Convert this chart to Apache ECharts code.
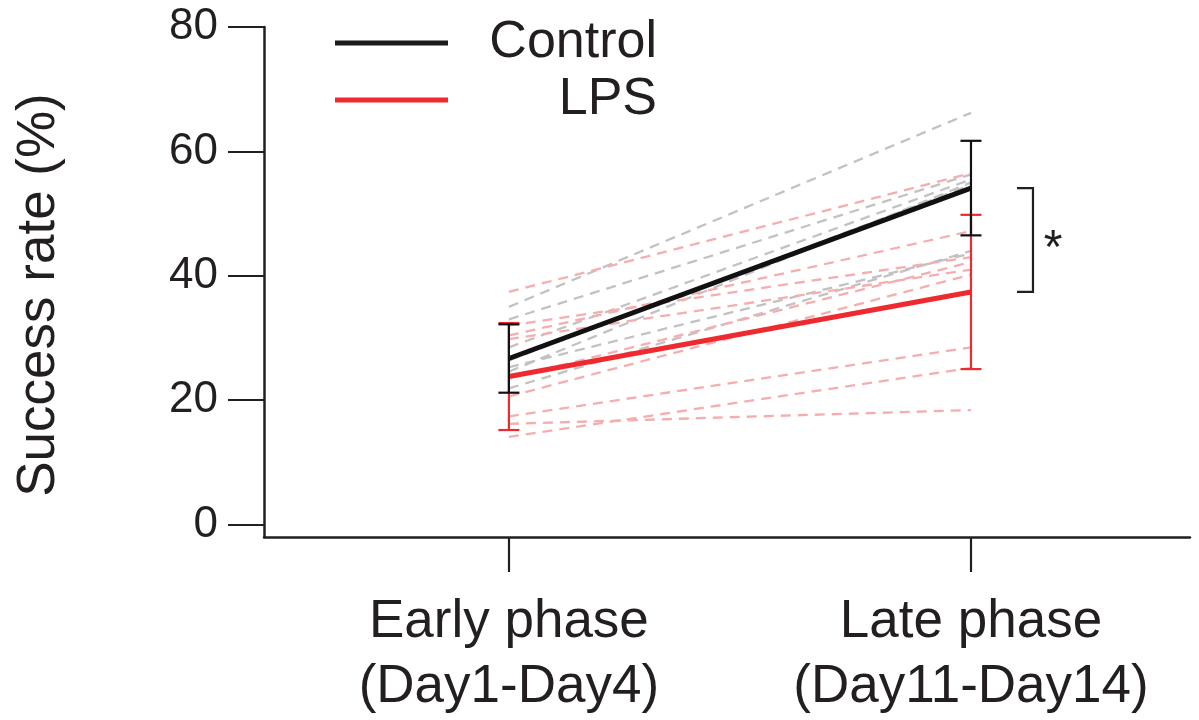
<!DOCTYPE html>
<html>
<head>
<meta charset="utf-8">
<script src="https://cdn.jsdelivr.net/npm/echarts@6/dist/echarts.min.js"></script>
<style>
  html, body { margin: 0; padding: 0; background: #ffffff; }
  #chart { width: 1199px; height: 720px; }
</style>
</head>
<body>
<div id="chart"></div>
<script>
// Phases on the x axis (positions 1 and 2)
const phases = ['Early phase\n(Day1-Day4)', 'Late phase\n(Day11-Day14)'];
const yTicks = [0, 20, 40, 60, 80];

// Individual animals: success rate (%) in early and late phase
const controlEarly = [35.0, 33.0, 28.5, 26.4, 24.6, 25.3, 21.9];
const controlLate  = [66.2, 56.3, 55.5, 54.6, 55.0, 43.6, 44.0];
const lpsEarly = [37.4, 32.0, 30.4, 29.8, 23.5, 20.6, 17.4, 16.2, 14.1];
const lpsLate  = [56.5, 43.0, 47.2, 41.0, 42.2, 40.2, 28.5, 18.4, 25.2];

// Group means and error (SD)
const controlMean = [26.7, 54.1];
const controlErr  = [5.5, 7.6];
const lpsMean = [23.8, 37.4];
const lpsErr  = [8.6, 12.4];

const INK = '#231f20';
const RED = '#ee2a2e';
const GREY_DASH = '#c2c2c2';
const PINK_DASH = '#f5aeb0';

const chart = echarts.init(document.getElementById('chart'), null, { renderer: 'canvas' });

function individualSeries(early, late, color) {
  return early.map((e, i) => ({
    type: 'line',
    silent: true,
    symbol: 'none',
    z: 1,
    animation: false,
    lineStyle: { color: color, width: 2.3, type: [10, 7] },
    data: [[1, e], [2, late[i]]]
  }));
}

function errorBarSeries(name, mean, err, color, z) {
  return {
    type: 'custom',
    name: name + ' err',
    silent: true,
    z: z,
    animation: false,
    data: mean.map((m, i) => [i + 1, m, err[i]]),
    renderItem: function (params, api) {
      const x = api.value(0), m = api.value(1), e = api.value(2);
      const top = api.coord([x, m + e]);
      const bot = api.coord([x, m - e]);
      const hw = 10.5;
      const st = { stroke: color, lineWidth: 2.2 };
      return {
        type: 'group',
        children: [
          { type: 'line', shape: { x1: top[0], y1: top[1], x2: bot[0], y2: bot[1] }, style: st },
          { type: 'line', shape: { x1: top[0] - hw, y1: top[1], x2: top[0] + hw, y2: top[1] }, style: st },
          { type: 'line', shape: { x1: bot[0] - hw, y1: bot[1], x2: bot[0] + hw, y2: bot[1] }, style: st }
        ]
      };
    }
  };
}

// Significance bracket between the two late-phase means
const bracketSeries = {
  type: 'custom',
  silent: true,
  z: 6,
  animation: false,
  data: [[2, controlMean[1], lpsMean[1]]],
  renderItem: function (params, api) {
    const a = api.coord([api.value(0), api.value(1)]);
    const b = api.coord([api.value(0), api.value(2)]);
    const x0 = a[0] + 46, x1 = a[0] + 62;
    return {
      type: 'group',
      children: [
        {
          type: 'polyline',
          shape: { points: [[x0, a[1]], [x1, a[1]], [x1, b[1]], [x0, b[1]]] },
          style: { stroke: INK, lineWidth: 2.2, fill: null }
        },
        {
          type: 'text',
          style: {
            text: '*', x: x1 + 20, y: (a[1] + b[1]) / 2 + 10,
            fill: INK, font: '48px "Liberation Sans", Arial, sans-serif',
            align: 'center', verticalAlign: 'middle'
          }
        }
      ]
    };
  }
};

const meanLine = (name, mean, color, z) => ({
  type: 'line',
  name: name,
  symbol: 'none',
  z: z,
  animation: false,
  lineStyle: { color: color, width: 5 },
  itemStyle: { color: color },
  data: mean.map((m, i) => [i + 1, m])
});

const option = {
  backgroundColor: '#ffffff',
  animation: false,
  textStyle: { fontFamily: '"Liberation Sans", Arial, sans-serif', color: INK },
  grid: { left: 264, right: 9, top: 27, bottom: 180.5, containLabel: false },
  legend: {
    orient: 'vertical',
    left: 335,
    top: 17,
    padding: 0,
    icon: 'rect',
    itemWidth: 113,
    itemHeight: 5,
    itemGap: 5,
    selectedMode: false,
    formatter: '{r|{name}}',
    textStyle: {
      fontSize: 52,
      lineHeight: 52,
      rich: { r: { fontSize: 52, lineHeight: 52, width: 204, align: 'right' } }
    },
    data: [
      { name: 'Control', itemStyle: { color: '#1a1a1a' }, textStyle: { color: INK } },
      { name: 'LPS', itemStyle: { color: RED }, textStyle: { color: RED } }
    ]
  },
  xAxis: {
    type: 'value',
    min: 0.47,
    max: 2.474,
    axisLine: { onZero: false, lineStyle: { color: INK, width: 2.5 } },
    axisTick: { show: true, customValues: [1, 2], length: 35, lineStyle: { color: INK, width: 2.2 } },
    splitLine: { show: false },
    axisLabel: {
      customValues: [1, 2],
      margin: 53,
      fontSize: 53,
      lineHeight: 65,
      color: INK,
      formatter: v => phases[Math.round(v) - 1]
    }
  },
  yAxis: {
    type: 'value',
    min: -2,
    max: 80,
    name: 'Success rate (%)',
    nameLocation: 'middle',
    nameGap: 198,
    nameTextStyle: { fontSize: 53, color: INK, padding: [0, 26, 0, 0] },
    axisLine: { onZero: false, lineStyle: { color: INK, width: 2.5 } },
    axisTick: { show: true, customValues: yTicks, length: 36, lineStyle: { color: INK, width: 2.2 } },
    splitLine: { show: false },
    axisLabel: { customValues: yTicks, margin: 46, fontSize: 44, color: INK, padding: [6, 0, 0, 0] }
  },
  series: [
    ...individualSeries(controlEarly, controlLate, GREY_DASH),
    ...individualSeries(lpsEarly, lpsLate, PINK_DASH),
    meanLine('Control', controlMean, '#111111', 4),
    meanLine('LPS', lpsMean, RED, 4),
    errorBarSeries('LPS', lpsMean, lpsErr, RED, 5),
    errorBarSeries('Control', controlMean, controlErr, '#111111', 5),
    bracketSeries
  ]
};

chart.setOption(option);
</script>
</body>
</html>
